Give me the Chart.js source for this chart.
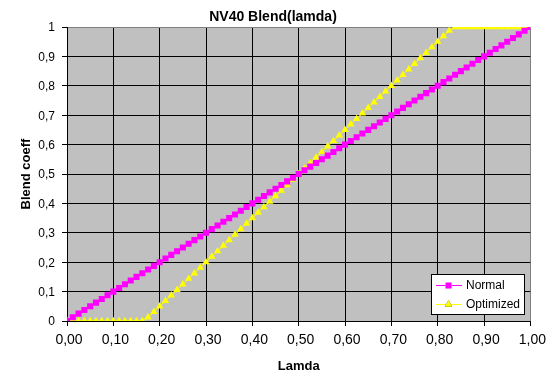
<!DOCTYPE html>
<html>
<head>
<meta charset="utf-8">
<script src="https://cdn.jsdelivr.net/npm/chart.js@4"></script>
<style>
  body { margin: 0; background: #fff; }
  #wrap { width: 550px; height: 380px; }
</style>
</head>
<body>
<div id="wrap"><canvas id="myChart" width="550" height="380"></canvas></div>
<script>
// data
var lamda = [0, 0.0125, 0.025, 0.0375, 0.05, 0.0625, 0.075, 0.0875, 0.1, 0.1125,
  0.125, 0.1375, 0.15, 0.1625, 0.175, 0.1875, 0.2, 0.2125, 0.225, 0.2375,
  0.25, 0.2625, 0.275, 0.2875, 0.3, 0.3125, 0.325, 0.3375, 0.35, 0.3625,
  0.375, 0.3875, 0.4, 0.4125, 0.425, 0.4375, 0.45, 0.4625, 0.475, 0.4875,
  0.5, 0.5125, 0.525, 0.5375, 0.55, 0.5625, 0.575, 0.5875, 0.6, 0.6125,
  0.625, 0.6375, 0.65, 0.6625, 0.675, 0.6875, 0.7, 0.7125, 0.725, 0.7375,
  0.75, 0.7625, 0.775, 0.7875, 0.8, 0.8125, 0.825, 0.8375, 0.85, 0.8625,
  0.875, 0.8875, 0.9, 0.9125, 0.925, 0.9375, 0.95, 0.9625, 0.975, 0.9875, 1];

var normal = [0, 0.0125, 0.025, 0.0375, 0.05, 0.0625, 0.075, 0.0875, 0.1, 0.1125,
  0.125, 0.1375, 0.15, 0.1625, 0.175, 0.1875, 0.2, 0.2125, 0.225, 0.2375,
  0.25, 0.2625, 0.275, 0.2875, 0.3, 0.3125, 0.325, 0.3375, 0.35, 0.3625,
  0.375, 0.3875, 0.4, 0.4125, 0.425, 0.4375, 0.45, 0.4625, 0.475, 0.4875,
  0.5, 0.5125, 0.525, 0.5375, 0.55, 0.5625, 0.575, 0.5875, 0.6, 0.6125,
  0.625, 0.6375, 0.65, 0.6625, 0.675, 0.6875, 0.7, 0.7125, 0.725, 0.7375,
  0.75, 0.7625, 0.775, 0.7875, 0.8, 0.8125, 0.825, 0.8375, 0.85, 0.8625,
  0.875, 0.8875, 0.9, 0.9125, 0.925, 0.9375, 0.95, 0.9625, 0.975, 0.9875, 1];

var optimized = [0, 0, 0, 0, 0, 0, 0, 0, 0, 0,
  0, 0, 0, 0, 0.0125, 0.0313, 0.05, 0.0688, 0.0875, 0.1063,
  0.125, 0.1438, 0.1625, 0.1813, 0.2, 0.2188, 0.2375, 0.2563, 0.275, 0.2938,
  0.3125, 0.3313, 0.35, 0.3688, 0.3875, 0.4063, 0.425, 0.4438, 0.4625, 0.4813,
  0.5, 0.5188, 0.5375, 0.5563, 0.575, 0.5938, 0.6125, 0.6313, 0.65, 0.6688,
  0.6875, 0.7063, 0.725, 0.7438, 0.7625, 0.7813, 0.8, 0.8188, 0.8375, 0.8563,
  0.875, 0.8938, 0.9125, 0.9313, 0.95, 0.9688, 0.9875, 1, 1, 1,
  1, 1, 1, 1, 1, 1, 1, 1, 1, 1, 1];

var seriesNames = ["Normal", "Optimized"];
var chartTitle = "NV40 Blend(lamda)";
var FONT = 'Arial, "Liberation Sans", sans-serif';

function toPoints(xs, ys){
    var pts = [];
    for (var i = 0; i < xs.length; i++) pts.push({x: xs[i], y: ys[i]});
    return pts;
}

// gray plot area
var plotBg = {
    id: 'plotBg',
    beforeDraw: function(chart){
        var a = chart.chartArea, ctx = chart.ctx;
        ctx.save();
        ctx.fillStyle = '#C0C0C0';
        ctx.fillRect(a.left, a.top, a.right - a.left, a.bottom - a.top);
        ctx.restore();
    }
};

// title centered on the whole picture, like excel does
var topTitle = {
    id: 'topTitle',
    afterDraw: function(chart){
        var ctx = chart.ctx;
        ctx.save();
        ctx.fillStyle = '#000';
        ctx.font = 'bold 14px ' + FONT;
        ctx.textAlign = 'center';
        ctx.textBaseline = 'middle';
        ctx.fillText(chartTitle, 273, 17.5);
        ctx.restore();
    }
};

// excel style legend box inside plot
var boxLegend = {
    id: 'boxLegend',
    afterDraw: function(chart){
        var ctx = chart.ctx;
        ctx.save();
        ctx.fillStyle = '#fff';
        ctx.fillRect(431.5, 274.5, 93, 40);
        ctx.strokeStyle = '#000';
        ctx.lineWidth = 1;
        ctx.strokeRect(431.5, 274.5, 93, 40);
        var rows = [285, 304];
        chart.data.datasets.forEach(function(ds, i){
            var y = rows[i] + 0.5;
            ctx.strokeStyle = ds.borderColor;
            ctx.beginPath();
            ctx.moveTo(436, y);
            ctx.lineTo(462, y);
            ctx.stroke();
            Chart.helpers.drawPoint(ctx, {pointStyle: ds.pointStyle, radius: ds.pointRadius, borderWidth: 0}, 448.5, y);
            ctx.fillStyle = ds.pointBackgroundColor;
            ctx.fill();
            ctx.fillStyle = '#000';
            ctx.font = '12px ' + FONT;
            ctx.textBaseline = 'middle';
            ctx.fillText(ds.label, 466, y + 0.5);
        });
        ctx.restore();
    }
};

new Chart("myChart", {
    type: "line",
    data: {
        datasets: [{
            label: seriesNames[0],
            data: toPoints(lamda, normal),
            borderColor: '#FF00FF',
            backgroundColor: '#FF00FF',
            pointBackgroundColor: '#FF00FF',
            pointBorderWidth: 0,
            pointStyle: 'rect',
            pointRadius: 4.3,
            borderWidth: 1,
            tension: 0
        }, {
            label: seriesNames[1],
            data: toPoints(lamda, optimized),
            borderColor: '#FFFF00',
            backgroundColor: '#FFFF00',
            pointBackgroundColor: '#FFFF00',
            pointBorderWidth: 0,
            pointStyle: 'triangle',
            pointRadius: 4.3,
            borderWidth: 1,
            tension: 0
        }]
    },
    options: {
        responsive: false,
        animation: false,
        events: [],
        layout: { padding: { left: 0, right: 18, top: 27, bottom: 0 } },
        plugins: {
            legend: { display: false },
            tooltip: { enabled: false },
            title: { display: false }
        },
        scales: {
            x: {
                type: 'linear',
                min: 0, max: 1,
                afterFit: function(s){ s.height = 59; },
                grid: {
                    color: function(c){ return c.tick && c.tick.value === 1 ? '#808080' : '#000'; },
                    tickColor: '#000',
                    tickLength: 5,
                    lineWidth: 1
                },
                border: { color: '#000' },
                ticks: {
                    stepSize: 0.1,
                    color: '#000',
                    font: { family: FONT, size: 14 },
                    padding: 6,
                    labelOffset: 2,
                    maxRotation: 0,
                    autoSkip: false,
                    callback: function(v){ return v.toFixed(2).replace('.', ','); }
                },
                title: {
                    display: true,
                    text: 'Lamda',
                    color: '#000',
                    font: { family: FONT, size: 13, weight: 'bold' },
                    padding: { top: 0, bottom: 6 }
                }
            },
            y: {
                min: 0, max: 1,
                afterFit: function(s){ s.width = 67; },
                grid: {
                    color: function(c){ return c.tick && c.tick.value === 1 ? '#808080' : '#000'; },
                    tickColor: '#000',
                    tickLength: 5,
                    lineWidth: 1
                },
                border: { color: '#000' },
                ticks: {
                    stepSize: 0.1,
                    color: '#000',
                    font: { family: FONT, size: 12 },
                    padding: 7,
                    labelOffset: 1,
                    callback: function(v){
                        if (v === 0 || v === 1) return String(v);
                        return v.toFixed(1).replace('.', ',');
                    }
                },
                title: {
                    display: true,
                    text: 'Blend coeff',
                    color: '#000',
                    font: { family: FONT, size: 13, weight: 'bold' },
                    padding: { top: 18.5, bottom: 0 }
                }
            }
        }
    },
    plugins: [plotBg, topTitle, boxLegend]
});
</script>
</body>
</html>
